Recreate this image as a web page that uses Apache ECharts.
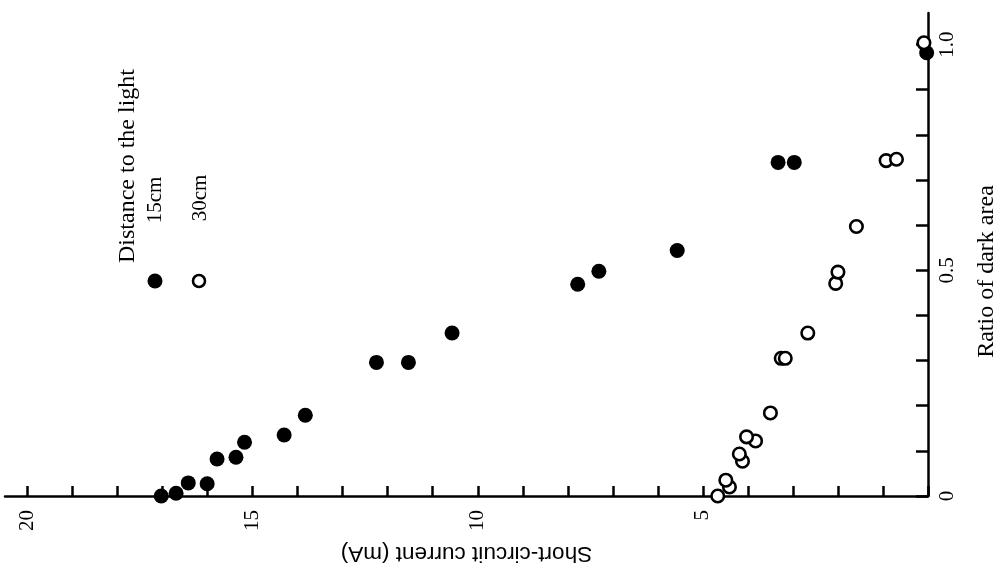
<!DOCTYPE html>
<html>
<head>
<meta charset="utf-8">
<script src="https://cdn.jsdelivr.net/npm/echarts@6/dist/echarts.min.js"></script>
<style>html,body{margin:0;padding:0;background:#fff}#c{width:1007px;height:573px}</style>
</head>
<body>
<div id="c"></div>
<script>
// Tick positions and labels
const currentTicks = [0,1,2,3,4,5,6,7,8,9,10,11,12,13,14,15,16,17,18,19,20];
const currentLabels = [5,10,15,20];
const ratioTicks = [0,0.1,0.2,0.3,0.4,0.5,0.6,0.7,0.8,0.9,1.0];
const ratioLabels = [0,0.5,1.0];
const seriesNames = ['15cm','30cm'];

// Distance 15 cm (filled circles): short-circuit current (mA) and ratio of dark area
const current15 = [17.03,16.70,16.43,16.01,15.79,15.37,15.18,14.30,13.83,12.25,11.54,10.57,7.78,7.31,5.57,3.33,2.97,0.03];
const ratio15   = [0.000,0.006,0.029,0.027,0.082,0.086,0.119,0.135,0.179,0.296,0.296,0.361,0.469,0.498,0.544,0.739,0.739,0.982];

// Distance 30 cm (open circles)
const current30 = [4.67,4.41,4.49,4.12,4.19,3.83,4.03,3.50,3.26,3.17,2.67,2.05,2.00,1.59,0.93,0.70,0.09];
const ratio30   = [0.000,0.020,0.035,0.077,0.093,0.122,0.131,0.184,0.305,0.305,0.361,0.471,0.496,0.597,0.743,0.746,1.004];

const pairs = (xs, ys) => xs.map((x, i) => [x, ys[i]]);

const chart = echarts.init(document.getElementById('c'), null, {renderer: 'canvas'});
const serif = 'Liberation Serif';
const sans = 'Liberation Sans';
const ink = '#000';

chart.setOption({
  backgroundColor: '#fff',
  animation: false,
  grid: {left: 5, right: 71, top: 13, bottom: 77, containLabel: false},
  xAxis: {
    type: 'value', position: 'bottom', inverse: true,
    min: 0, max: 20.5,
    name: 'Short-circuit current (mA)', nameLocation: 'middle', nameGap: 46, nameRotate: 180,
    nameTextStyle: {fontFamily: sans, fontSize: 22.5, color: ink},
    axisLine: {show: true, onZero: false, lineStyle: {color: ink, width: 2.5}},
    axisTick: {show: true, inside: true, length: 10, customValues: currentTicks, lineStyle: {color: ink, width: 2.5}},
    axisLabel: {show: true, rotate: 90, margin: 14, customValues: currentLabels,
      fontFamily: serif, fontSize: 21, color: ink, formatter: v => String(v)},
    splitLine: {show: false}
  },
  yAxis: {
    type: 'value', position: 'right',
    min: 0, max: 1.07,
    name: 'Ratio of dark area', nameLocation: 'middle', nameGap: 47, nameRotate: 90,
    nameTextStyle: {fontFamily: serif, fontSize: 24, color: ink, padding: [0, 34, 0, 0]},
    axisLine: {show: true, onZero: false, lineStyle: {color: ink, width: 2.5}},
    axisTick: {show: true, inside: true, length: 12, customValues: ratioTicks, lineStyle: {color: ink, width: 2.5}},
    axisLabel: {show: true, rotate: 90, margin: 9, customValues: ratioLabels,
      fontFamily: serif, fontSize: 21, color: ink,
      formatter: v => (v === 0 ? '0' : v.toFixed(1))},
    splitLine: {show: false}
  },
  series: [
    {
      name: seriesNames[0], type: 'scatter', data: pairs(current15, ratio15),
      symbol: 'circle', symbolSize: 15,
      itemStyle: {color: ink, opacity: 1}
    },
    {
      name: seriesNames[1], type: 'scatter', data: pairs(current30, ratio30),
      symbol: 'circle', symbolSize: 12.5,
      itemStyle: {color: '#fff', borderColor: ink, borderWidth: 2.6, opacity: 1}
    }
  ],
  graphic: [
    {type: 'text', x: 128, y: 166, rotation: Math.PI / 2,
      style: {text: 'Distance to the light', fontFamily: serif, fontSize: 24, fill: ink, align: 'center', verticalAlign: 'middle'}},
    {type: 'text', x: 155, y: 200, rotation: Math.PI / 2,
      style: {text: seriesNames[0], fontFamily: serif, fontSize: 21, fill: ink, align: 'center', verticalAlign: 'middle'}},
    {type: 'text', x: 200, y: 198, rotation: Math.PI / 2,
      style: {text: seriesNames[1], fontFamily: serif, fontSize: 21, fill: ink, align: 'center', verticalAlign: 'middle'}},
    {type: 'circle', shape: {cx: 155, cy: 281, r: 7.5}, style: {fill: ink}},
    {type: 'circle', shape: {cx: 199, cy: 281, r: 6}, style: {fill: '#fff', stroke: ink, lineWidth: 2.6}}
  ]
});
</script>
</body>
</html>
